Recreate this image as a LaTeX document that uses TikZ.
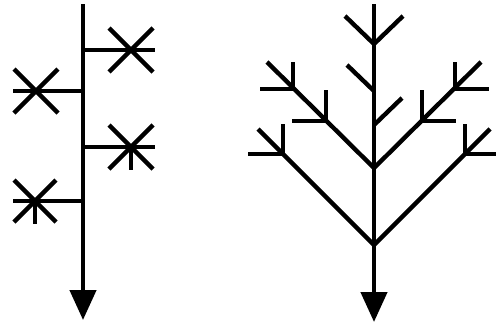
\documentclass[tikz,border=0pt]{standalone}
\usetikzlibrary{arrows.meta}
\begin{document}
\begin{tikzpicture}[x=1pt,y=-1pt,
  ln/.style={line width=4.4pt,black},
  stem/.style={ln,-{Triangle[length=30pt,width=26pt]}},
  line cap=butt]
\useasboundingbox (0,0) rectangle (496,324);
% ---------- left figure ----------
\coordinate (Lt) at (83,4);
\coordinate (Lb) at (83,320);
\draw[stem] (Lt) -- (Lb);
% star 1
\coordinate (s1) at (131,50);
\coordinate (j1) at (83,50);
\draw[ln] (j1) -- (155,50);
\draw[ln] ([shift={(-22,-22)}]s1) -- ([shift={(22,22)}]s1);
\draw[ln] ([shift={(22,-22)}]s1) -- ([shift={(-22,22)}]s1);
% star 2
\coordinate (s2) at (36,91);
\coordinate (j2) at (83,91);
\draw[ln] (j2) -- (13,91);
\draw[ln] ([shift={(-22,-22)}]s2) -- ([shift={(22,22)}]s2);
\draw[ln] ([shift={(22,-22)}]s2) -- ([shift={(-22,22)}]s2);
% star 3
\coordinate (s3) at (131,147);
\coordinate (j3) at (83,147);
\draw[ln] (j3) -- (155,147);
\draw[ln] ([shift={(-22,-22)}]s3) -- ([shift={(22,22)}]s3);
\draw[ln] ([shift={(22,-22)}]s3) -- ([shift={(-22,22)}]s3);
\draw[ln] (s3) -- ++(0,23);
% star 4
\coordinate (s4) at (35,201);
\coordinate (j4) at (83,201);
\draw[ln] (j4) -- (13,201);
\draw[ln] ([shift={(-21,-21)}]s4) -- ([shift={(21,21)}]s4);
\draw[ln] ([shift={(21,-21)}]s4) -- ([shift={(-21,21)}]s4);
\draw[ln] (s4) -- ++(0,23);
% ---------- right figure ----------
\coordinate (Rt) at (374,4);
\coordinate (Rb) at (374,322);
\draw[stem] (Rt) -- (Rb);
% top V
\coordinate (v0) at (374,44);
\draw[ln] (v0) -- (345,16);
\draw[ln] (v0) -- (403,16);
% small side twigs on stem
\coordinate (t1) at (374,91);
\draw[ln] (t1) -- (347,65);
\coordinate (t2) at (374,125);
\draw[ln] (t2) -- (402,98);
% upper junction
\coordinate (J1) at (374,168);
\coordinate (UL) at (267,62);
\coordinate (UR) at (481,62);
\draw[ln] (J1) -- (UL);
\draw[ln] (J1) -- (UR);
% nodes on upper-left branch
\coordinate (a1) at (326,121);
\draw[ln] (a1) -- (326,90); \draw[ln] (a1) -- (292,121);
\coordinate (a2) at (293,89);
\draw[ln] (a2) -- (293,62); \draw[ln] (a2) -- (260,89);
% nodes on upper-right branch
\coordinate (b1) at (422,121);
\draw[ln] (b1) -- (422,90); \draw[ln] (b1) -- (456,121);
\coordinate (b2) at (455,89);
\draw[ln] (b2) -- (455,62); \draw[ln] (b2) -- (489,89);
% lower junction
\coordinate (J2) at (374,245);
\coordinate (LL) at (258,129);
\coordinate (LR) at (490,129);
\draw[ln] (J2) -- (LL);
\draw[ln] (J2) -- (LR);
\coordinate (c1) at (283,154);
\draw[ln] (c1) -- (283,124); \draw[ln] (c1) -- (248,154);
\coordinate (d1) at (465,154);
\draw[ln] (d1) -- (465,124); \draw[ln] (d1) -- (496,154);
\end{tikzpicture}
\end{document}
